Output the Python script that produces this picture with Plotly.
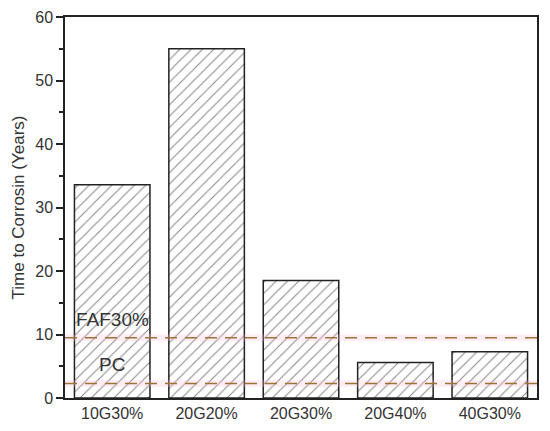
import plotly.graph_objects as go

categories = ["10G30%", "20G20%", "20G30%", "20G40%", "40G30%"]
times = [33.6, 55.0, 18.5, 5.6, 7.3]
ref_names = ["FAF30%", "PC"]
ref_values = [9.5, 2.3]
ref_label_y = [12.3, 5.2]
y_ticks = [0, 10, 20, 30, 40, 50, 60]

font_family = "Liberation Sans, Arial, sans-serif"
text_color = "#333333"

fig = go.Figure()
fig.add_trace(go.Bar(
    x=categories, y=times,
    marker=dict(color="white", line=dict(color="#222222", width=1.5),
                pattern=dict(shape="/", fgcolor="#111111", bgcolor="white",
                             size=8, solidity=0.13)),
    showlegend=False,
))

for name, val, ly in zip(ref_names, ref_values, ref_label_y):
    fig.add_shape(type="line", xref="paper", x0=0, x1=1, yref="y", y0=val, y1=val,
                  line=dict(color="rgba(255,190,210,0.25)", width=7), layer="above")
    fig.add_shape(type="line", xref="paper", x0=0, x1=1, yref="y", y0=val, y1=val,
                  line=dict(color="#9c7238", width=1.5, dash="12px,8px"), layer="above")
    fig.add_annotation(x=0, y=ly, xref="x", yref="y", text=name, showarrow=False,
                       font=dict(size=19, color=text_color, family=font_family))

fig.update_layout(
    width=550, height=431,
    margin=dict(l=57, r=21, t=9, b=41, autoexpand=False),
    paper_bgcolor="white", plot_bgcolor="white",
    bargap=0.2,
    font=dict(family=font_family, color=text_color),
)
fig.update_xaxes(
    range=[-0.5, 4.5], showline=True, linecolor="#222222", linewidth=1.5,
    mirror=True, ticks="", showgrid=False, automargin=False,
    tickfont=dict(size=16, color=text_color, family=font_family),
)
fig.update_yaxes(
    range=[0, 60], tickvals=y_ticks, showline=True, linecolor="#222222", linewidth=1.5,
    mirror=True, ticks="outside", ticklen=7, tickwidth=1.5, tickcolor="#222222",
    showgrid=False, zeroline=False, automargin=False,
    minor=dict(dtick=5, ticks="outside", ticklen=4, tickwidth=1.5, tickcolor="#222222"),
    tickfont=dict(size=16, color=text_color, family=font_family),
    title=dict(text="Time to Corrosin (Years)", standoff=6,
               font=dict(size=17, color=text_color, family=font_family)),
)

fig.write_html("out.html")
